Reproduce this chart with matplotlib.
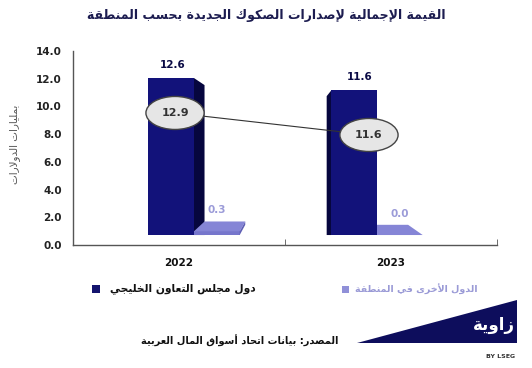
import numpy as np
import matplotlib
matplotlib.use("Agg")
import matplotlib.pyplot as plt
from matplotlib.patches import Polygon, Rectangle, Ellipse

plt.rcParams['font.family'] = ['DejaVu Sans']

# ---------------- data ----------------
years = ['2022', '2023']
gcc = [12.6, 11.6]
other = [0.3, 0.0]
total = [12.9, 11.6]
yticks = [0, 2, 4, 6, 8, 10, 12, 14]

title_txt = "القيمة الإجمالية لإصدارات الصكوك الجديدة بحسب المنطقة"
ylabel_txt = "بمليارات الدولارات"
leg_gcc = "دول مجلس التعاون الخليجي"
leg_other = "الدول الأخرى في المنطقة"
source_txt = "المصدر: بيانات اتحاد أسواق المال العربية"
logo_txt = "زاوية"

# ---------------- minimal Arabic shaping ----------------
DUAL = {'ئ': 0xFE89, 'ب': 0xFE8F, 'ت': 0xFE95, 'ث': 0xFE99, 'ج': 0xFE9D, 'ح': 0xFEA1,
        'خ': 0xFEA5, 'س': 0xFEB1, 'ش': 0xFEB5, 'ص': 0xFEB9, 'ض': 0xFEBD, 'ط': 0xFEC1,
        'ظ': 0xFEC5, 'ع': 0xFEC9, 'غ': 0xFECD, 'ف': 0xFED1, 'ق': 0xFED5, 'ك': 0xFED9,
        'ل': 0xFEDD, 'م': 0xFEE1, 'ن': 0xFEE5, 'ه': 0xFEE9, 'ي': 0xFEF1}
RIGHT = {'ء': None, 'آ': 0xFE81, 'أ': 0xFE83, 'ؤ': 0xFE85, 'إ': 0xFE87, 'ا': 0xFE8D,
         'ة': 0xFE93, 'د': 0xFEA9, 'ذ': 0xFEAB, 'ر': 0xFEAD, 'ز': 0xFEAF, 'و': 0xFEED,
         'ى': 0xFEEF}
LAMALEF = {'آ': 0xFEF5, 'أ': 0xFEF7, 'إ': 0xFEF9, 'ا': 0xFEFB}


def ar(s):
    toks = []
    i = 0
    while i < len(s):
        c = s[i]
        if c == 'ل' and i + 1 < len(s) and s[i + 1] in LAMALEF:
            toks.append(('LA', s[i + 1]))
            i += 2
        else:
            toks.append(('C', c))
            i += 1

    def jt(t):
        k, c = t
        if k == 'LA':
            return 'R'
        if c in DUAL:
            return 'D'
        if c in RIGHT and RIGHT[c] is not None:
            return 'R'
        return None

    out = []
    for j, t in enumerate(toks):
        k, c = t
        typ = jt(t)
        prev = toks[j - 1] if j > 0 else None
        nxt = toks[j + 1] if j + 1 < len(toks) else None
        cp = prev is not None and jt(prev) == 'D'
        cn = typ == 'D' and nxt is not None and jt(nxt) in ('D', 'R')
        if typ is None:
            out.append(c)
        elif k == 'LA':
            out.append(chr(LAMALEF[c] + (1 if cp else 0)))
        elif typ == 'R':
            out.append(chr(RIGHT[c] + (1 if cp else 0)))
        else:
            off = 3 if (cp and cn) else 1 if cp else 2 if cn else 0
            out.append(chr(DUAL[c] + off))
    return ''.join(reversed(out))


# ---------------- figure ----------------
W, H = 532, 368
fig = plt.figure(figsize=(W / 100, H / 100), dpi=100)
fig.patch.set_facecolor('white')
rect = [73 / W, 1 - 245 / H, 424 / W, 194 / H]

NAVY = '#12127a'
NAVY_SIDE = '#06063e'
LIGHT = '#7676cc'
LIGHT_TOP = '#8585d6'
LIGHT_SIDE = '#5e5eb4'
AXC = '#555555'

# axis with ticks
ax = fig.add_axes(rect)
ax.set_xlim(-0.5, 1.5)
ax.set_ylim(0, 14)
for s in ['top', 'right']:
    ax.spines[s].set_visible(False)
for s in ['left', 'bottom']:
    ax.spines[s].set_color(AXC)
    ax.spines[s].set_linewidth(1.0)
ax.set_yticks(yticks)
ax.set_yticklabels([f'{v:.1f}' for v in yticks], fontsize=7.5, fontweight='bold', color='#222222')
ax.tick_params(axis='y', length=0, pad=8)
ax.set_yticks([14], minor=True)
ax.tick_params(axis='y', which='minor', direction='in', length=3, color=AXC)
ax.set_xticks(range(len(years)))
ax.set_xticklabels(years, fontsize=7.5, fontweight='bold', color='#111111')
ax.set_xticks([-0.5, 0.5, 1.5], minor=True)
ax.tick_params(axis='x', which='major', length=0, pad=9)
ax.tick_params(axis='x', which='minor', direction='in', length=4, color=AXC)
ax.set_ylabel(ar(ylabel_txt), fontsize=7.5, color='#555555')
ax.yaxis.set_label_coords(-53 / 424, 0.52)

# bar axis (pseudo-3D)
axb = fig.add_axes(rect, zorder=2)
axb.set_xlim(-0.661, 1.656)
axb.set_ylim(-0.80, 14.77)
axb.axis('off')
axb.patch.set_alpha(0)

x = np.arange(len(years))
bw = 0.25
off = 0.125
K = 0.11
VX, VY = 0.525, 7.46


def back(px, py):
    return px + K * (VX - px), py + K * (VY - py)


gx = x - off
ox = x + off

# GCC side faces
for xi, v in zip(gx, gcc):
    x0, x1 = xi - bw / 2, xi + bw / 2
    ex = x1 if VX > x1 else x0
    bx, _ = back(ex, v)
    pts = [(ex, 0), (ex, v), back(ex, v), (bx, 0)]
    axb.add_patch(Polygon(pts, closed=True, facecolor=NAVY_SIDE, edgecolor='none', zorder=1))

# other region slabs
axb.bar(ox, other, width=bw, color=LIGHT, zorder=2)
for xi, v in zip(ox, other):
    x0, x1 = xi - bw / 2, xi + bw / 2
    top = [(x0, v), (x1, v), back(x1, v), back(x0, v)]
    axb.add_patch(Polygon(top, closed=True, facecolor=LIGHT_TOP, edgecolor='none', zorder=2))
    ex = x1 if VX > x1 else x0
    side = [(ex, 0), (ex, v), back(ex, v), back(ex, 0)]
    axb.add_patch(Polygon(side, closed=True, facecolor=LIGHT_SIDE, edgecolor='none', zorder=2))
    axb.annotate(f'{v:.1f}', (xi, v), xytext=(0, 21), textcoords='offset pixels',
                 ha='center', va='center', fontsize=7.5, fontweight='bold', color='#9b9bd8', zorder=5)

# GCC fronts
axb.bar(gx, gcc, width=bw, color=NAVY, zorder=3)
for i, (xi, v) in enumerate(zip(gx, gcc)):
    axb.annotate(f'{v:.1f}', (xi, v), xytext=(2 + 4 * i, 13), textcoords='offset pixels',
                 ha='center', va='center', fontsize=7.5, fontweight='bold', color='#0a0a45', zorder=5)

# total line axis
axl = fig.add_axes(rect, zorder=3)
axl.set_xlim(-0.526, 1.660)
axl.set_ylim(5.10, 16.56)
axl.axis('off')
axl.patch.set_alpha(0)
axl.plot(x, total, color='#333333', lw=0.8, zorder=1)
for xi, v in zip(x, total):
    axl.add_patch(Ellipse((xi, v), width=0.30, height=1.95, facecolor='#e6e6e6',
                          edgecolor='#444444', lw=1.0, zorder=2))
    axl.text(xi, v, f'{v:.1f}', ha='center', va='center', fontsize=8,
             fontweight='bold', color='#333333', zorder=3)

# title
fig.text(266 / W, 1 - 15 / H, ar(title_txt), ha='center', va='center',
         fontsize=9, fontweight='bold', color='#1c1c50')

# legend (manual)
fig.patches.append(Rectangle((92 / W, 1 - 293 / H), 8 / W, 8 / H, transform=fig.transFigure,
                             facecolor='#14146e', edgecolor='none'))
fig.text(110 / W, 1 - 289 / H, ar(leg_gcc), ha='left', va='center', fontsize=7.7,
         fontweight='bold', color='#111111')
fig.patches.append(Rectangle((342 / W, 1 - 293 / H), 7 / W, 7 / H, transform=fig.transFigure,
                             facecolor='#9090d8', edgecolor='none'))
fig.text(355 / W, 1 - 289 / H, ar(leg_other), ha='left', va='center', fontsize=6.8,
         fontweight='bold', color='#9a9ad6')

# source
fig.text(240 / W, 1 - 341 / H, ar(source_txt), ha='center', va='center', fontsize=7.1,
         fontweight='bold', color='#111111')

# logo
tri = [(357 / W, 1 - 343 / H), (517 / W, 1 - 300 / H), (517 / W, 1 - 343 / H)]
fig.patches.append(Polygon(tri, closed=True, transform=fig.transFigure,
                           facecolor='#0d0d5c', edgecolor='none'))
fig.text(515 / W, 1 - 325 / H, ar(logo_txt), ha='right', va='center', fontsize=12,
         fontweight='bold', color='white')
fig.text(515 / W, 1 - 357 / H, 'BY LSEG', ha='right', va='center', fontsize=4.5,
         fontweight='bold', color='#333333')

fig.savefig('out.png', dpi=100)
